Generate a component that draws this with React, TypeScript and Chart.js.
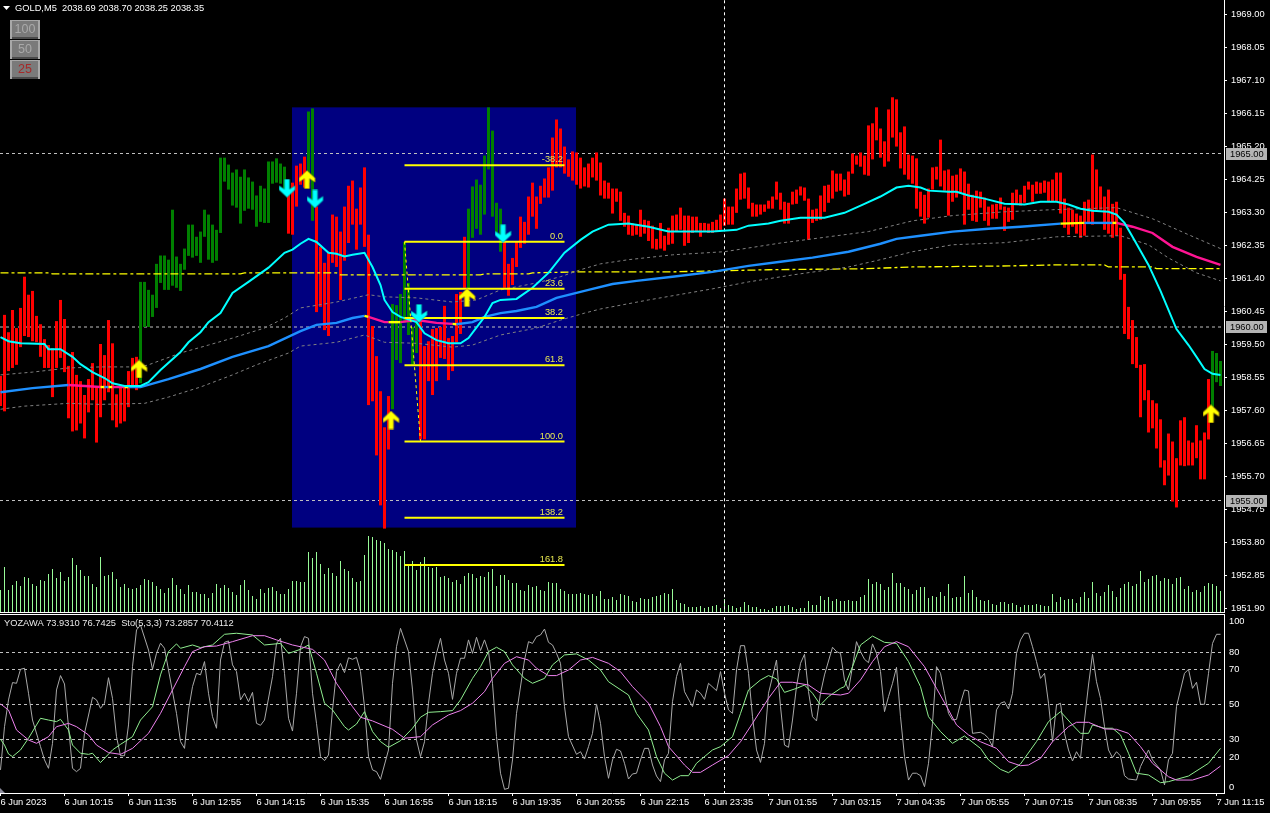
import React, { useEffect, useRef } from "react";
import { Chart, registerables } from "chart.js";
Chart.register(...registerables);

const FONT_FAMILY = '"Liberation Sans", sans-serif';
const FONT_SIZE = 9.3;
const FONT = `${FONT_SIZE}px ${FONT_FAMILY}`;

const barTops = [
1958.59,1960.35,1959.85,1960.49,1959.97,1960.55,1961.45,1960.93,1961.04,1960.32,
1960.08,1959.65,1959.48,1959.39,1960.17,1960.78,1960.23,1958.88,1959.28,1958.62,
1958.44,1958.04,1958.50,1958.96,1958.27,1959.51,1959.19,1960.20,1959.53,1958.06,
1958.27,1958.27,1958.73,1959.11,1959.14,1961.30,1961.30,1961.07,1960.93,1961.82,
1962.06,1962.06,1961.94,1963.38,1962.03,1961.82,1962.26,1962.95,1962.95,1962.60,
1962.75,1963.38,1963.24,1962.95,1962.80,1964.88,1964.88,1964.68,1964.45,1964.54,
1964.33,1964.54,1964.31,1964.19,1963.79,1964.07,1963.99,1964.77,1964.77,1964.86,
1964.71,1964.62,1963.96,1964.16,1964.65,1964.71,1964.91,1966.21,1966.30,1963.47,
1962.31,1961.85,1962.17,1963.24,1963.18,1962.75,1963.47,1964.07,1964.22,1963.41,
1964.02,1964.60,1962.66,1960.03,1959.16,1958.15,1957.11,1958.01,1960.66,1960.63,
1960.95,1962.45,1961.27,1960.00,1960.20,1960.20,1959.45,1959.59,1959.94,1959.97,
1960.00,1960.61,1959.68,1959.74,1960.95,1961.01,1962.60,1963.41,1964.05,1964.25,
1964.10,1964.94,1966.33,1965.66,1963.58,1963.41,1962.45,1961.82,1961.99,1962.45,
1963.18,1963.03,1963.76,1964.16,1963.76,1964.07,1964.28,1964.60,1965.46,1965.98,
1965.72,1965.20,1964.83,1965.06,1965.03,1964.88,1964.60,1964.71,1964.88,1965.03,
1964.74,1964.22,1964.16,1963.99,1963.99,1963.90,1963.29,1963.21,1962.98,1962.95,
1963.38,1963.09,1963.06,1962.92,1962.54,1963.00,1962.63,1962.86,1963.21,1963.24,
1963.44,1963.21,1963.21,1963.18,1963.18,1963.00,1963.00,1962.98,1963.03,1963.09,
1963.24,1963.70,1963.47,1963.47,1963.99,1964.42,1964.45,1964.02,1963.58,1963.53,
1963.53,1963.53,1963.64,1963.76,1964.19,1963.87,1963.61,1963.58,1963.90,1963.96,
1964.05,1964.02,1963.70,1963.38,1963.41,1963.79,1964.07,1964.10,1964.51,1964.42,
1964.42,1964.25,1964.48,1965.00,1964.94,1965.03,1964.94,1965.81,1965.87,1966.33,
1965.72,1965.35,1966.27,1966.62,1966.56,1965.61,1965.78,1964.97,1964.94,1964.86,
1963.90,1963.81,1963.99,1964.60,1964.62,1965.40,1964.51,1964.54,1964.36,1964.39,
1964.57,1964.48,1964.13,1963.81,1963.93,1963.90,1963.73,1963.47,1963.53,1963.55,
1963.73,1963.47,1963.44,1963.87,1963.96,1963.81,1964.07,1964.19,1964.10,1964.19,
1964.16,1964.22,1964.19,1964.25,1964.45,1964.45,1963.70,1963.44,1963.38,1963.27,
1963.21,1963.61,1963.67,1964.97,1964.54,1964.05,1963.76,1963.96,1963.55,1963.61,
1962.86,1961.53,1960.58,1960.20,1959.71,1958.91,1958.93,1958.18,1957.89,1957.80,
1957.34,1956.16,1956.93,1956.70,1956.22,1957.31,1957.40,1956.73,1956.67,1957.17,
1956.73,1956.96,1958.50,1959.31,1959.25,1959.02];

const barBottoms = [
1957.72,1957.57,1958.73,1958.82,1958.91,1959.42,1959.74,1959.71,1959.59,1959.56,
1959.14,1958.82,1958.82,1957.98,1958.82,1959.11,1958.70,1957.37,1956.99,1957.02,
1957.22,1956.79,1957.54,1957.89,1956.67,1957.40,1957.89,1958.12,1957.31,1957.11,
1957.22,1957.28,1957.69,1958.27,1958.18,1958.38,1960.00,1960.00,1960.29,1960.55,
1961.27,1961.07,1961.07,1961.19,1961.13,1961.04,1961.65,1962.05,1962.00,1962.05,
1961.85,1962.60,1961.94,1961.85,1961.91,1962.71,1964.19,1963.96,1963.50,1963.44,
1962.98,1963.35,1963.41,1963.38,1962.89,1963.03,1963.00,1963.00,1964.13,1964.16,
1964.13,1963.96,1962.69,1962.66,1963.47,1964.10,1964.02,1964.16,1963.06,1960.43,
1960.58,1959.91,1959.74,1961.85,1961.73,1960.78,1961.91,1962.42,1962.95,1962.23,
1962.95,1962.31,1957.75,1957.86,1956.30,1954.86,1954.19,1956.47,1957.63,1959.05,
1958.96,1960.12,1959.77,1958.91,1959.25,1956.76,1956.76,1958.44,1958.04,1958.44,
1959.11,1959.08,1958.47,1958.73,1959.56,1959.80,1961.13,1961.07,1962.57,1962.83,
1962.66,1963.24,1964.54,1963.18,1962.71,1962.17,1961.13,1960.90,1961.21,1961.73,
1962.28,1962.40,1962.66,1963.18,1962.83,1963.55,1963.73,1963.73,1963.93,1964.60,
1964.60,1964.42,1964.33,1964.22,1964.10,1963.99,1964.05,1964.02,1964.31,1964.22,
1963.79,1963.70,1963.70,1963.27,1963.61,1963.06,1962.89,1962.66,1962.63,1962.66,
1962.60,1962.69,1962.48,1962.26,1962.23,1962.26,1962.20,1962.37,1962.40,1962.75,
1962.80,1962.34,1962.42,1962.71,1962.75,1962.60,1962.77,1962.71,1962.71,1962.77,
1962.80,1962.92,1962.95,1962.95,1963.29,1963.67,1963.70,1963.41,1963.18,1963.18,
1963.24,1963.32,1963.41,1963.41,1963.67,1963.38,1962.98,1962.98,1963.53,1963.55,
1963.79,1963.64,1962.51,1963.00,1963.06,1963.09,1963.32,1963.58,1963.70,1963.90,
1963.93,1963.76,1963.81,1964.42,1964.68,1964.62,1964.39,1964.36,1964.83,1965.38,
1964.88,1964.62,1964.77,1965.46,1965.20,1964.57,1964.39,1964.25,1964.13,1963.41,
1963.18,1962.98,1963.15,1963.96,1964.25,1964.05,1963.93,1963.21,1963.61,1963.73,
1963.87,1962.95,1963.38,1963.06,1963.03,1963.44,1963.06,1962.92,1963.12,1963.12,
1963.38,1962.77,1963.03,1963.09,1963.55,1963.50,1963.58,1963.96,1963.61,1963.84,
1963.84,1963.87,1963.61,1963.61,1963.61,1963.27,1962.86,1962.66,1962.89,1962.69,
1962.57,1962.63,1962.98,1962.95,1963.38,1963.38,1962.80,1962.69,1962.57,1962.63,
1961.36,1959.80,1959.65,1958.93,1958.82,1957.40,1957.89,1956.96,1957.08,1956.50,
1955.95,1955.44,1955.72,1954.97,1954.80,1956.01,1955.99,1956.01,1956.01,1956.22,
1955.61,1955.61,1956.76,1957.69,1958.41,1958.30];

const bullishRuns: [number, number][] = [[35,71],[77,78],[98,104],[117,125],[303,305]];

const volumes = [
220,450,220,270,310,260,350,340,280,260,320,310,380,430,340,400,310,350,540,470,
420,360,360,280,250,550,360,370,400,330,250,280,240,230,240,270,330,320,300,260,
230,190,240,340,270,230,180,270,200,200,180,180,140,190,280,240,270,240,200,170,
270,320,220,160,130,230,190,240,250,210,180,180,230,310,310,300,300,600,540,600,
480,380,440,390,360,510,430,410,340,300,310,570,760,750,720,710,690,630,620,600,
560,610,460,510,420,500,550,450,440,450,350,360,340,300,320,280,360,390,380,340,
360,350,400,430,260,370,370,320,290,290,220,210,270,250,260,220,210,300,290,290,
230,210,180,180,180,190,180,170,180,160,210,130,130,150,120,
180,170,160,110,100,140,130,130,150,160,170,190,180,230,120,90,80,50,50,50,
60,40,50,60,70,40,130,70,60,40,50,100,70,50,50,30,30,20,40,60,
60,60,70,50,30,40,40,110,70,70,160,120,150,110,130,110,110,120,110,110,
150,170,330,280,300,280,220,250,390,290,290,250,230,180,220,250,250,140,160,150,
200,160,280,140,150,150,360,190,220,150,120,110,120,80,70,100,100,80,90,70,
50,70,70,70,80,70,60,60,180,100,150,120,130,130,90,150,200,140,300,190,
160,200,270,210,150,240,280,300,260,280,410,300,330,360,370,310,340,330,280,340,
350,230,260,200,220,200,260,290,280,260,210];

const emaLine: [number, number][] = [[0,1959.71],[2,1959.59],[5,1959.53],[11,1959.51],[12,1959.36],[15,1959.36],[18,1959.14],[20,1958.93],[23,1958.70],[26,1958.53],[28,1958.38],[31,1958.30],[35,1958.30],[37,1958.41],[40,1958.76],[45,1959.28],[47,1959.56],[50,1959.85],[52,1960.14],[55,1960.40],[58,1960.98],[62,1961.30],[67,1961.71],[71,1962.14],[73,1962.23],[75,1962.40],[77,1962.54],[79,1962.45],[82,1962.14],[84,1962.11],[86,1962.03],[88,1962.08],[91,1962.14],[93,1961.73],[95,1961.21],[96,1960.78],[98,1960.43],[100,1960.29],[104,1960.14],[106,1959.82],[109,1959.62],[112,1959.53],[115,1959.53],[117,1959.68],[121,1960.29],[123,1960.69],[125,1960.78],[129,1960.81],[133,1961.13],[137,1961.56],[141,1962.14],[145,1962.51],[148,1962.75],[152,1962.95],[157,1962.98],[162,1962.89],[167,1962.75],[178,1962.75],[184,1962.80],[187,1962.92],[192,1962.98],[195,1963.06],[200,1963.15],[206,1963.15],[211,1963.29],[216,1963.55],[220,1963.76],[224,1964.02],[227,1964.07],[230,1964.02],[232,1963.93],[237,1963.90],[239,1963.90],[242,1963.79],[246,1963.70],[251,1963.55],[256,1963.53],[260,1963.61],[264,1963.61],[267,1963.53],[270,1963.41],[273,1963.35],[277,1963.32],[279,1963.24],[281,1963.00],[283,1962.60],[287,1961.79],[290,1961.04],[294,1959.94],[297,1959.48],[299,1959.14],[301,1958.79],[303,1958.65],[305,1958.62]];

const smaLine: [number, number][] = [[0,1958.12],[8,1958.24],[17,1958.33],[25,1958.27],[26,1958.27],[27,1958.27],[28,1958.27],[31,1958.27],[32,1958.27],[35,1958.27],[42,1958.50],[50,1958.79],[58,1959.14],[67,1959.45],[75,1959.88],[79,1960.06],[84,1960.12],[88,1960.26],[91,1960.32],[92,1960.29],[96,1960.14],[97,1960.14],[100,1960.14],[104,1960.20],[109,1960.12],[113,1960.09],[114,1960.08],[118,1960.14],[121,1960.29],[125,1960.40],[129,1960.46],[134,1960.58],[139,1960.84],[147,1961.07],[153,1961.24],[159,1961.33],[168,1961.45],[178,1961.59],[187,1961.76],[195,1961.88],[203,1962.00],[212,1962.17],[220,1962.40],[224,1962.54],[230,1962.63],[238,1962.75],[247,1962.83],[255,1962.89],[265,1962.98],[271,1963.00],[272,1963.00],[278,1963.00],[279,1963.00],[283,1962.89],[288,1962.71],[293,1962.31],[299,1962.02],[305,1961.79]];

const smaTrendStarts = [0,17,25,26,27,28,31,32,91,92,97,100,113,114,265,271,278,279];
const smaTrendStates = ["up","down","turn","up","turn","down","turn","up","turn","down","turn","down","turn","up","turn","up","turn","down"];

const upperBand: [number, number][] = [[0,1958.62],[8,1958.70],[17,1958.82],[25,1958.85],[35,1958.85],[37,1958.91],[45,1959.25],[52,1959.48],[58,1959.68],[66,1959.97],[71,1960.26],[75,1960.55],[84,1960.72],[92,1960.93],[96,1960.87],[104,1960.84],[113,1960.72],[119,1960.78],[125,1961.07],[134,1961.27],[140,1961.45],[145,1961.65],[150,1961.82],[157,1961.94],[168,1962.08],[181,1962.17],[195,1962.42],[207,1962.60],[217,1962.75],[228,1963.06],[238,1963.21],[251,1963.32],[263,1963.38],[279,1963.44],[288,1963.12],[297,1962.66],[305,1962.26]];

const lowerBand: [number, number][] = [[0,1957.63],[6,1957.72],[17,1957.80],[25,1957.77],[36,1957.80],[42,1957.98],[50,1958.27],[58,1958.62],[64,1958.91],[72,1959.25],[75,1959.45],[84,1959.56],[91,1959.77],[96,1959.56],[104,1959.53],[113,1959.42],[118,1959.48],[125,1959.77],[134,1959.97],[140,1960.20],[146,1960.40],[150,1960.52],[162,1960.78],[178,1961.10],[187,1961.30],[198,1961.50],[212,1961.73],[220,1961.94],[228,1962.17],[238,1962.37],[251,1962.43],[264,1962.60],[280,1962.63],[287,1962.37],[292,1961.99],[299,1961.56],[305,1961.33]];

const slowAverage: [number, number][] = [[0,1961.56],[12,1961.56],[13,1961.53],[60,1961.53],[61,1961.56],[84,1961.56],[85,1961.50],[120,1961.50],[121,1961.53],[132,1961.53],[133,1961.56],[145,1961.59],[168,1961.59],[192,1961.65],[216,1961.68],[228,1961.73],[252,1961.76],[264,1961.79],[276,1961.79],[277,1961.73],[288,1961.73],[289,1961.68],[305,1961.68]];

const buySignals: [number, number][] = [[35,1958.79],[77,1964.25],[98,1957.32],[117,1960.85],[303,1957.50]];
const sellSignals: [number, number][] = [[72,1964.00],[79,1963.69],[105,1960.39],[126,1962.69]];

const fibBars = [101, 141];
const fibLevels = ["-38.2","0.0","23.6","38.2","61.8","100.0","138.2","161.8"];
const fibPrices = [1964.66,1962.46,1961.10,1960.26,1958.90,1956.70,1954.50,1953.14];
const fibTrend: [number, number][] = [[101,1962.46],[105,1956.70]];

const zoneBars = [73, 144];
const zonePrices = [1966.33, 1954.22];
const roundLevels = [1965, 1960, 1955];
const priceTicks = [1969,1968.05,1967.1,1966.15,1965.2,1964.25,1963.3,1962.35,1961.4,1960.45,1959.5,1958.55,1957.6,1956.65,1955.7,1954.75,1953.8,1952.85,1951.9];
const cursorBar = 181;

const timeBars = [0,16,32,48,64,80,96,112,128,144,160,176,192,208,224,240,256,272,288,304];
const timeLabels = ["6 Jun 2023","6 Jun 10:15","6 Jun 11:35","6 Jun 12:55","6 Jun 14:15","6 Jun 15:35","6 Jun 16:55","6 Jun 18:15","6 Jun 19:35","6 Jun 20:55","6 Jun 22:15","6 Jun 23:35","7 Jun 01:55","7 Jun 03:15","7 Jun 04:35","7 Jun 05:55","7 Jun 07:15","7 Jun 08:35","7 Jun 09:55","7 Jun 11:15"];

const oscTicks = [100,80,70,50,30,20,0];
const oscLevels = [80,70,50,30,20];

const yozawaLine: [number, number][] = [[0,12.8],[1,37.5],[2,52.8],[3,62.7],[4,62.3],[5,70.3],[6,70.9],[7,56.6],[8,41.3],[10,26.1],[11,18.5],[12,13.7],[13,28.0],[14,58.5],[15,66.7],[16,61.9],[17,37.5],[18,13.7],[19,11.8],[20,13.7],[21,33.7],[23,54.3],[24,52.8],[25,48.0],[26,50.9],[27,65.5],[28,53.7],[29,31.8],[30,20.9],[31,20.9],[32,38.5],[33,71.8],[34,92.8],[35,95.6],[37,81.3],[38,70.3],[39,79.4],[40,85.2],[41,82.3],[42,69.9],[44,45.1],[45,29.0],[46,25.1],[47,47.1],[48,60.4],[49,68.0],[50,67.1],[51,74.7],[52,56.6],[53,43.2],[54,36.6],[55,75.6],[56,85.7],[57,86.5],[58,72.8],[59,69.0],[60,52.8],[61,56.6],[62,51.8],[63,57.1],[64,39.4],[65,38.3],[66,41.3],[68,66.1],[69,85.1],[70,88.0],[71,68.0],[72,42.3],[73,35.0],[74,56.6],[75,83.2],[76,89.0],[77,88.0],[78,56.6],[79,39.4],[80,20.4],[81,18.1],[82,21.3],[83,47.1],[84,69.0],[85,73.7],[86,68.4],[87,76.9],[88,76.0],[89,77.1],[90,69.0],[91,48.9],[92,20.4],[93,12.8],[94,11.8],[95,7.4],[97,24.2],[98,62.3],[99,83.2],[100,93.7],[102,80.4],[103,58.5],[104,29.9],[105,20.4],[106,28.9],[107,50.9],[108,68.0],[109,79.4],[110,88.0],[111,75.6],[112,68.0],[113,53.1],[114,68.0],[115,76.6],[116,76.6],[117,87.1],[118,79.4],[119,88.6],[120,81.0],[121,87.1],[122,80.4],[123,62.3],[124,31.8],[125,10.9],[126,1.7],[127,2.3],[128,18.5],[129,45.1],[131,75.6],[132,86.1],[133,85.1],[134,89.0],[135,89.9],[136,93.3],[137,85.7],[138,84.2],[139,79.4],[140,73.7],[141,49.0],[142,31.8],[144,21.7],[145,23.2],[146,19.0],[147,26.1],[148,33.7],[149,50.5],[150,39.4],[151,20.4],[152,8.0],[153,18.5],[154,24.6],[155,23.6],[156,16.6],[157,7.6],[158,10.5],[159,10.9],[160,18.5],[161,25.1],[162,25.1],[163,15.6],[164,9.3],[165,6.1],[166,18.5],[167,22.3],[168,51.8],[169,66.1],[170,73.7],[171,57.5],[173,49.0],[174,58.5],[175,56.6],[176,53.1],[177,62.3],[179,58.1],[180,69.0],[181,56.6],[182,47.1],[183,45.1],[184,69.9],[185,83.8],[186,83.8],[187,68.0],[188,43.2],[189,24.2],[190,17.1],[191,28.0],[192,56.6],[194,75.6],[195,49.0],[196,27.0],[197,25.7],[198,41.3],[199,60.4],[200,73.7],[201,78.9],[202,57.5],[203,43.2],[204,40.8],[205,56.6],[206,67.1],[208,82.9],[209,80.4],[210,79.4],[211,64.2],[212,58.5],[213,71.8],[214,86.1],[215,80.4],[216,76.0],[217,74.1],[218,84.8],[219,79.4],[220,69.0],[221,46.1],[222,54.7],[223,62.3],[224,71.4],[225,43.2],[226,20.4],[227,7.0],[228,10.9],[229,10.9],[230,9.5],[231,3.2],[232,16.6],[233,39.4],[234,71.8],[235,68.0],[236,56.6],[237,45.1],[238,41.3],[239,41.7],[240,50.9],[241,58.5],[242,57.9],[243,33.7],[245,34.3],[246,33.1],[247,30.9],[248,26.1],[249,47.1],[250,50.9],[251,51.8],[252,47.6],[253,56.6],[254,79.4],[255,87.1],[256,90.9],[257,90.9],[258,83.2],[259,74.7],[260,65.1],[261,68.0],[262,50.9],[263,29.0],[264,49.9],[265,50.9],[266,33.7],[267,24.2],[268,17.9],[269,23.2],[270,19.4],[271,41.3],[272,61.3],[273,78.9],[274,63.2],[275,53.7],[276,37.5],[277,24.2],[278,19.8],[279,23.2],[280,20.8],[281,9.5],[282,7.6],[284,7.0],[285,14.7],[286,19.4],[287,24.2],[288,18.5],[290,12.8],[291,4.2],[292,18.5],[293,22.3],[294,49.0],[296,68.0],[297,70.3],[298,59.4],[299,62.9],[300,50.3],[301,50.3],[302,68.0],[303,85.1],[304,90.3],[305,90.3]];

const stochMain: [number, number][] = [[0,30.3],[1,27.0],[2,21.9],[3,20.4],[5,24.2],[7,30.9],[9,38.5],[10,42.3],[12,41.3],[14,40.4],[15,41.7],[17,35.6],[18,27.0],[20,22.3],[22,21.7],[23,22.3],[25,17.0],[28,24.2],[30,27.4],[33,31.8],[35,41.3],[38,48.9],[40,67.1],[42,80.4],[44,84.8],[45,82.3],[48,84.2],[50,82.7],[53,84.2],[56,90.3],[59,90.9],[63,89.9],[66,84.2],[70,85.1],[72,79.4],[75,81.7],[77,84.2],[79,68.0],[81,50.9],[83,47.1],[86,37.5],[87,35.6],[89,39.0],[91,46.1],[93,34.7],[95,29.0],[97,25.7],[100,29.5],[103,36.6],[105,42.9],[107,45.7],[110,46.1],[113,46.7],[115,52.8],[118,65.1],[120,71.8],[122,80.4],[124,82.9],[126,80.4],[128,72.8],[131,65.1],[133,62.3],[136,65.1],[138,72.8],[141,78.5],[144,79.1],[147,75.6],[150,69.9],[152,63.2],[157,55.6],[159,45.1],[162,35.6],[164,20.4],[166,10.9],[168,7.0],[170,9.5],[172,9.5],[174,16.6],[178,24.2],[180,26.1],[183,31.8],[185,45.1],[187,58.5],[190,64.2],[192,66.7],[194,64.8],[196,57.1],[199,59.4],[201,61.3],[203,56.6],[205,49.9],[207,54.7],[210,59.4],[211,60.4],[213,71.8],[215,84.2],[218,89.3],[221,85.7],[224,85.1],[227,74.7],[230,60.4],[232,43.2],[235,34.7],[238,28.0],[241,32.2],[245,25.1],[247,18.5],[250,13.1],[252,11.2],[255,16.2],[259,29.0],[262,40.4],[265,46.1],[268,38.5],[270,33.7],[272,33.7],[273,38.5],[276,36.6],[278,36.6],[280,32.8],[282,22.3],[284,10.9],[287,9.9],[290,5.5],[292,6.1],[297,9.3],[302,16.6],[305,25.1]];

const stochSignal: [number, number][] = [[0,50.5],[2,47.0],[4,35.6],[7,29.9],[9,28.0],[12,31.8],[14,37.5],[17,39.4],[19,37.5],[22,32.8],[24,27.0],[27,22.7],[30,21.7],[33,25.1],[37,33.7],[40,45.1],[43,58.5],[46,71.8],[48,80.4],[51,83.2],[54,83.6],[58,86.1],[63,89.5],[66,89.5],[69,87.1],[73,84.2],[78,81.7],[81,75.6],[84,62.3],[88,48.9],[90,42.9],[93,40.8],[98,36.0],[101,30.9],[105,31.8],[108,38.5],[112,44.2],[115,46.7],[118,50.9],[121,57.5],[123,65.1],[126,73.7],[129,77.5],[132,75.6],[134,70.9],[137,66.7],[139,66.7],[142,69.9],[145,75.6],[148,77.1],[152,73.7],[155,68.9],[158,60.4],[162,50.9],[165,37.5],[167,26.1],[171,15.6],[173,11.4],[175,11.4],[178,15.6],[182,21.0],[185,28.9],[188,39.4],[192,53.7],[195,62.9],[198,62.9],[202,61.3],[205,56.6],[210,55.6],[212,56.6],[215,64.2],[218,74.7],[221,83.2],[224,86.1],[227,83.2],[231,71.8],[234,59.4],[237,47.1],[239,38.5],[242,32.8],[245,28.9],[249,25.1],[252,17.5],[255,15.2],[257,15.6],[260,19.4],[263,28.9],[267,37.5],[269,40.0],[272,40.0],[276,36.2],[279,36.0],[282,33.7],[285,26.1],[288,16.6],[292,8.9],[294,7.0],[298,7.0],[302,9.9],[305,15.0]];

const headerText = "GOLD,M5  2038.69 2038.70 2038.25 2038.35";
const oscText = "YOZAWA 73.9310 76.7425  Sto(5,3,3) 73.2857 70.4112";
const lotButtons = ["100", "50", "25"];

const pts = (s: [number, number][]) => s.map(([x, y]) => ({ x, y }));
const X_MIN = -0.125;
const X_MAX = 305.875;
const AXIS_W = 46;

function arrowSprite(fill: string, edge: string, up: boolean) {
  const c = document.createElement("canvas");
  c.width = 20;
  c.height = 19;
  const g = c.getContext("2d")!;
  if (!up) { g.translate(0, 19); g.scale(1, -1); }
  g.beginPath();
  g.moveTo(8.5, 0.5); g.lineTo(16.5, 8); g.lineTo(16.5, 12); g.lineTo(11, 8.5);
  g.lineTo(11, 18.5); g.lineTo(6, 18.5); g.lineTo(6, 8.5); g.lineTo(0.5, 12); g.lineTo(0.5, 8);
  g.closePath();
  g.fillStyle = fill;
  g.fill();
  g.strokeStyle = edge;
  g.lineWidth = 0.7;
  g.stroke();
  return c;
}

const fixedTicks = (values: number[]) => (s: any) => { s.ticks = values.map((value) => ({ value })); };

export default function App() {
  const mainRef = useRef<HTMLCanvasElement>(null);
  const oscRef = useRef<HTMLCanvasElement>(null);

  useEffect(() => {
    document.body.style.margin = "0";
    document.body.style.background = "#000";

    const bullish = (k: number) => bullishRuns.some(([a, b]) => k >= a && k <= b);
    const trendColors: Record<string, string> = { up: "#1e90ff", down: "#ff1493", turn: "#ffff00" };
    const trendAt = (k: number) => {
      let s = "up";
      smaTrendStarts.forEach((st, i) => { if (k >= st) s = smaTrendStates[i]; });
      return trendColors[s];
    };
    const lineDs = (data: any[], extra: any) => ({ type: "line", data, pointRadius: 0, pointHitRadius: 0, borderWidth: 1, tension: 0, fill: false, yAxisID: "y", ...extra });

    const datasets: any[] = [
      { type: "line", data: pts(buySignals), showLine: false, pointStyle: arrowSprite("#ffff00", "#b09000", true), pointRadius: 9, yAxisID: "y", order: 0 },
      { type: "line", data: pts(sellSignals), showLine: false, pointStyle: arrowSprite("#00ffff", "#00a0a0", false), pointRadius: 9, yAxisID: "y", order: 0 },
      ...fibPrices.map((p) => lineDs(fibBars.map((x) => ({ x, y: p })), { borderColor: "#ffff00", borderWidth: 2, order: 1 })),
      lineDs(pts(fibTrend), { borderColor: "#ffff00", borderDash: [3, 3], order: 1 }),
      lineDs(pts(emaLine), { borderColor: "#00ffff", borderWidth: 2, order: 3 }),
      lineDs(pts(smaLine), { borderColor: "#1e90ff", borderWidth: 2.4, segment: { borderColor: (c: any) => trendAt(c.p0.parsed.x) }, order: 4 }),
      lineDs(pts(upperBand), { borderColor: "#808080", borderDash: [3, 3], order: 5 }),
      lineDs(pts(lowerBand), { borderColor: "#808080", borderDash: [3, 3], order: 5 }),
      lineDs(pts(slowAverage), { borderColor: "#ffff00", borderWidth: 1.3, borderDash: [8, 3, 3, 3], order: 6 }),
      lineDs([{ x: cursorBar, y: 1951 }, { x: cursorBar, y: 1970 }], { borderColor: "#ffffff", borderDash: [3, 3], order: 6 }),
      {
        type: "bar",
        data: barTops.map((t, k) => ({ x: k, y: [barBottoms[k], t] })),
        backgroundColor: barTops.map((_, k) => (bullish(k) ? "#008000" : "#ff0000")),
        barThickness: 3, grouped: false, inflateAmount: 0, yAxisID: "y", order: 7,
      },
      {
        type: "bar",
        data: volumes.map((v, k) => ({ x: k, y: v })),
        backgroundColor: "#98fb98",
        barThickness: 1, grouped: false, inflateAmount: 0, yAxisID: "vol", order: 8,
      },
      ...roundLevels.map((p) => lineDs([{ x: X_MIN, y: p }, { x: X_MAX, y: p }], { borderColor: "#c0c0c0", borderDash: [3, 3], order: 9 })),
    ];

    const mainOverlay = {
      id: "mainOverlay",
      beforeDatasetsDraw(ch: any) {
        const { ctx, scales } = ch;
        const x0 = scales.x.getPixelForValue(zoneBars[0]) - 0.5;
        const x1 = scales.x.getPixelForValue(zoneBars[1]) - 0.5;
        const y0 = scales.y.getPixelForValue(zonePrices[0]);
        const y1 = scales.y.getPixelForValue(zonePrices[1]);
        ctx.save();
        ctx.fillStyle = "#000080";
        ctx.fillRect(x0, y0, x1 - x0, y1 - y0);
        ctx.restore();
      },
      afterDatasetsDraw(ch: any) {
        const { ctx, scales } = ch;
        ctx.save();
        ctx.font = FONT;
        ctx.fillStyle = "#e8e850";
        ctx.textAlign = "right";
        ctx.textBaseline = "alphabetic";
        fibPrices.forEach((p, i) => {
          ctx.fillText(fibLevels[i], scales.x.getPixelForValue(fibBars[1]) - 1.5, scales.y.getPixelForValue(p) - 3);
        });
        ctx.restore();
      },
      afterDraw(ch: any) {
        const { ctx, scales } = ch;
        ctx.save();
        ctx.font = FONT;
        ctx.textBaseline = "middle";
        roundLevels.forEach((p) => {
          const y = Math.round(scales.y.getPixelForValue(p));
          ctx.fillStyle = "#b4b4b4";
          ctx.fillRect(1226, y - 6, 41, 12);
          ctx.fillStyle = "#000";
          ctx.textAlign = "left";
          ctx.fillText(p.toFixed(2), 1230, y);
        });
        ctx.fillStyle = "#fff";
        ctx.beginPath();
        ctx.moveTo(3, 6); ctx.lineTo(10, 6); ctx.lineTo(6.5, 10); ctx.closePath();
        ctx.fill();
        ctx.textAlign = "left";
        ctx.fillText(headerText, 15, 8);
        lotButtons.forEach((t, i) => {
          const top = 20 + i * 20;
          ctx.fillStyle = "#7a7a7a";
          ctx.fillRect(10, top, 30, 19);
          ctx.fillStyle = "#a8a8a8";
          ctx.fillRect(10, top, 30, 1);
          ctx.fillRect(10, top, 2, 19);
          ctx.fillRect(38, top, 2, 19);
          ctx.fillStyle = "#4a4a4a";
          ctx.fillRect(12, top + 17, 26, 2);
          ctx.font = `12.5px ${FONT_FAMILY}`;
          ctx.textAlign = "center";
          ctx.fillStyle = i === 2 ? "#a52a2a" : "#a9a9a9";
          ctx.fillText(t, 25, top + 10);
        });
        ctx.restore();
      },
    };

    const main = new Chart(mainRef.current!, {
      type: "line",
      data: { datasets },
      plugins: [mainOverlay],
      options: {
        animation: false, responsive: false, devicePixelRatio: 1, events: [],
        layout: { padding: 0, autoPadding: false },
        plugins: { legend: { display: false }, tooltip: { enabled: false } },
        scales: {
          x: {
            type: "linear", min: X_MIN, max: X_MAX, offset: false,
            grid: { display: false }, ticks: { display: false },
            border: { color: "#fff" },
            afterFit: (s: any) => { s.height = 1; s.paddingLeft = 0; s.paddingRight = 0; },
          },
          y: {
            type: "linear", position: "right", min: 1951.787, max: 1969.4236,
            afterBuildTicks: fixedTicks(priceTicks),
            afterFit: (s: any) => { s.width = AXIS_W; s.paddingTop = 0; s.paddingBottom = 0; },
            grid: { drawOnChartArea: false, tickLength: 3, tickColor: "#fff", tickWidth: 1 },
            border: { color: "#fff" },
            ticks: {
              color: "#fff", font: { family: FONT_FAMILY, size: FONT_SIZE }, padding: 4, autoSkip: false,
              callback: (v: any) => Number(v).toFixed(2),
            },
          },
          vol: { type: "linear", display: false, min: 0, max: 6120 },
        },
      } as any,
    } as any);

    const oscOverlay = {
      id: "oscOverlay",
      afterDraw(ch: any) {
        const { ctx, chartArea } = ch;
        ctx.save();
        ctx.strokeStyle = "#fff";
        ctx.lineWidth = 1;
        ctx.beginPath();
        ctx.moveTo(0, 1.5);
        ctx.lineTo(chartArea.right, 1.5);
        ctx.stroke();
        ctx.font = FONT;
        ctx.fillStyle = "#e8e8e8";
        ctx.textAlign = "left";
        ctx.textBaseline = "middle";
        ctx.fillText(oscText, 4, 10.5);
        ctx.fillStyle = "#8a8a9a";
        ctx.beginPath();
        ctx.moveTo(0, chartArea.bottom - 5);
        ctx.lineTo(5, chartArea.bottom);
        ctx.lineTo(0, chartArea.bottom);
        ctx.closePath();
        ctx.fill();
        ctx.restore();
      },
    };

    const osc = new Chart(oscRef.current!, {
      type: "line",
      data: {
        datasets: [
          lineDs([{ x: cursorBar, y: -1 }, { x: cursorBar, y: 103 }], { borderColor: "#ffffff", borderDash: [3, 3], order: 4 }),
          lineDs(pts(yozawaLine), { borderColor: "#a9a9a9", order: 3 }),
          lineDs(pts(stochSignal), { borderColor: "#ee82ee", order: 1 }),
          lineDs(pts(stochMain), { borderColor: "#90ee90", order: 2 }),
        ],
      },
      plugins: [oscOverlay],
      options: {
        animation: false, responsive: false, devicePixelRatio: 1, events: [],
        layout: { padding: { top: 1 }, autoPadding: false },
        plugins: { legend: { display: false }, tooltip: { enabled: false } },
        scales: {
          x: {
            type: "linear", min: X_MIN, max: X_MAX, offset: false,
            afterBuildTicks: fixedTicks(timeBars),
            afterFit: (s: any) => { s.height = 20; s.paddingLeft = 0; s.paddingRight = 0; },
            grid: { drawOnChartArea: false, tickLength: 3, tickColor: "#fff" },
            border: { color: "#fff" },
            ticks: {
              color: "#fff", font: { family: FONT_FAMILY, size: FONT_SIZE }, padding: 1,
              align: "start", autoSkip: false, maxRotation: 0, minRotation: 0,
              callback: (v: any) => timeLabels[timeBars.indexOf(Number(v))] ?? "",
            },
          },
          y: {
            type: "linear", position: "right", min: -0.4, max: 101.9,
            afterBuildTicks: (s: any) => {
              s.ticks = oscTicks.map((value) => ({ value }));
              const base = s.getPixelForValue.bind(s);
              s.getPixelForTick = (i: number) => {
                const v = s.ticks[i].value;
                return base(v) + (v === 100 ? 4 : v === 0 ? -5 : 0);
              };
            },
            afterFit: (s: any) => { s.width = AXIS_W; s.paddingTop = 0; s.paddingBottom = 0; },
            grid: {
              drawTicks: false,
              color: (c: any) => (oscLevels.includes(c.tick?.value) ? "#c0c0c0" : "rgba(0,0,0,0)"),
            },
            border: { color: "#fff", dash: [3, 3] },
            ticks: {
              color: "#fff", font: { family: FONT_FAMILY, size: FONT_SIZE }, padding: 5, autoSkip: false,
              callback: (v: any) => String(v),
            },
          },
        },
      } as any,
    } as any);

    return () => { main.destroy(); osc.destroy(); };
  }, []);

  return (
    <div style={{ position: "relative", width: 1270, height: 813, background: "#000", overflow: "hidden" }}>
      <canvas ref={mainRef} width={1270} height={613} style={{ position: "absolute", left: 0, top: 0, width: 1270, height: 613 }} />
      <canvas ref={oscRef} width={1270} height={200} style={{ position: "absolute", left: 0, top: 613, width: 1270, height: 200 }} />
    </div>
  );
}
